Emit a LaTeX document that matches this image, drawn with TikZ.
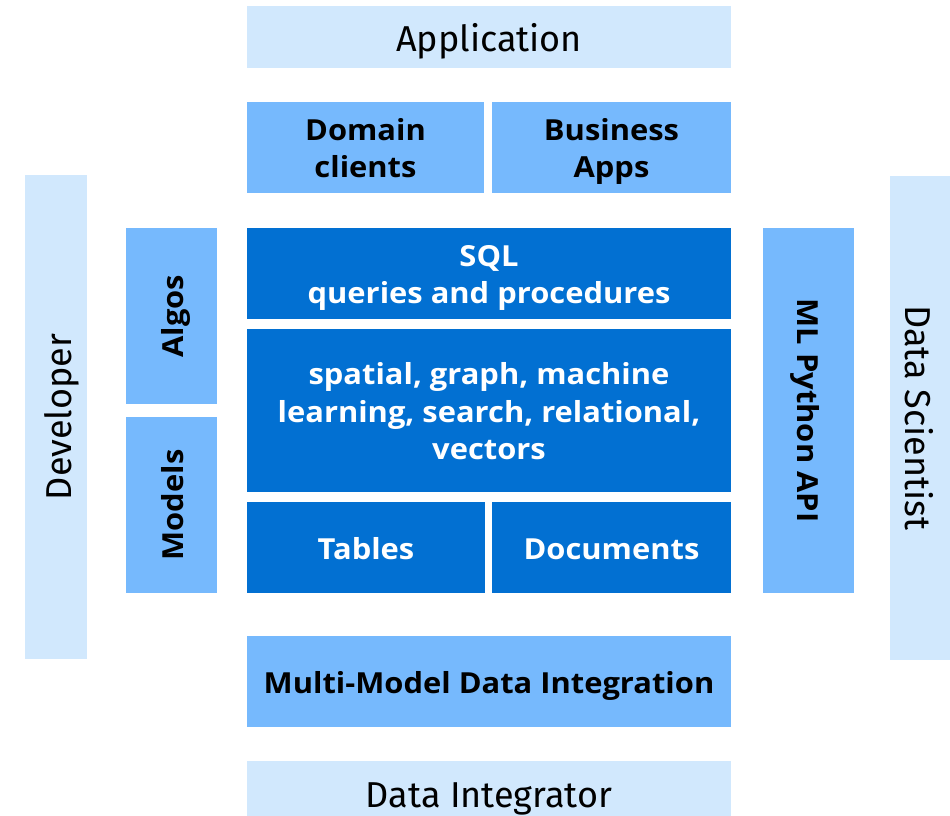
\documentclass[tikz,border=0pt]{standalone}
\usepackage{fontspec}
\setmainfont{Fira Sans}
\newfontfamily\strongfont{Open Sans}[FakeStretch=1.065]
\definecolor{tierlight}{RGB}{209,232,253}
\definecolor{tiermid}{RGB}{118,185,253}
\definecolor{tierdark}{RGB}{2,112,210}
\tikzset{
  block/.style={inner sep=0pt, outer sep=0pt, draw=none, align=center},
  rolebox/.style={block, fill=tierlight, text=black, font=\fontsize{36}{42}\selectfont,
    text height=30pt, text depth=0pt},
  midbox/.style={block, fill=tiermid, text=black, font=\strongfont\bfseries\fontsize{29}{37}\selectfont},
  darkbox/.style={block, fill=tierdark, text=white, font=\strongfont\bfseries\fontsize{29}{37.5}\selectfont},
  oneline/.style={text height=23pt, text depth=0pt},
  twolines/.style={text height=60pt, text depth=0pt},
  threelines/.style={text height=98pt, text depth=0pt},
}
\begin{document}
\begin{tikzpicture}[x=1pt, y=-1pt]
\useasboundingbox (0,0) rectangle (950,816);

% roles around the stack
\node[rolebox, minimum width=484, minimum height=62] (app) at (489,37) {Application};
\node[rolebox, minimum width=484, minimum height=62] (integrator) at (489,792) {Data Integrator};
\node[rolebox, rotate=90, minimum width=484, minimum height=62] (dev) at (56,417) {Developer};
\node[rolebox, rotate=-90, minimum width=484, minimum height=62] (scientist) at (920.5,418) {Data Scientist};

% client layer
\node[midbox, twolines, minimum width=237, minimum height=91] (domain) at (365.5,147.5) {Domain\\clients};
\node[midbox, twolines, minimum width=239, minimum height=91] (business) at (611.5,147.5) {Business\\Apps};

% side components
\node[midbox, oneline, rotate=90, minimum width=176, minimum height=91] (algos) at (171.5,316) {Algos};
\node[midbox, oneline, rotate=90, minimum width=176, minimum height=91] (models) at (171.5,505) {Models};
\node[midbox, oneline, rotate=-90, minimum width=365, minimum height=91] (mlapi) at (808.5,410.5) {ML Python API};

% engine core
\node[darkbox, twolines, minimum width=484, minimum height=91] (sql) at (489,273.5) {SQL\\queries and procedures};
\node[darkbox, threelines, minimum width=484, minimum height=163] (engines) at (489,410.5) {spatial, graph, machine\\learning, search, relational,\\vectors};
\node[darkbox, oneline, minimum width=238, minimum height=91] (tables) at (366,547.5) {Tables};
\node[darkbox, oneline, minimum width=239, minimum height=91] (documents) at (611.5,547.5) {Documents};

% integration layer
\node[midbox, oneline, minimum width=484, minimum height=91] (mmdi) at (489,681.5) {Multi-Model Data Integration};
\end{tikzpicture}
\end{document}
